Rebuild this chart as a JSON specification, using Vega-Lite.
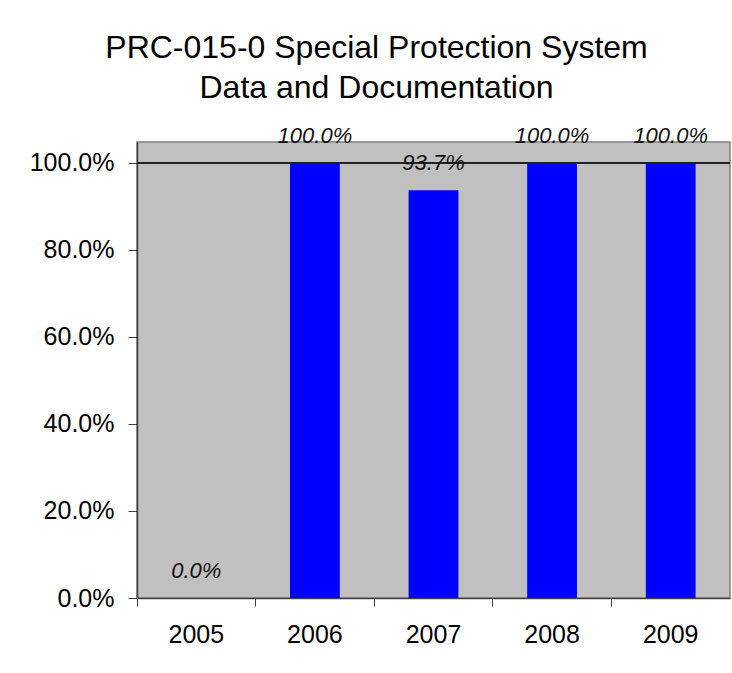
{
  "$schema": "https://vega.github.io/schema/vega-lite/v6.json",
  "width": 593,
  "height": 456,
  "autosize": {"type": "none"},
  "padding": {"left": 137, "top": 142, "right": 2, "bottom": 75},
  "background": "white",
  "config": {
    "font": "Liberation Sans",
    "view": {"fill": "#C0C0C0", "stroke": "#808080", "strokeWidth": 1.5}
  },
  "title": {
    "text": ["PRC-015-0 Special Protection System", "Data and Documentation"],
    "font": "Liberation Sans",
    "fontSize": 32,
    "fontWeight": "normal",
    "color": "black",
    "lineHeight": 40,
    "anchor": "middle",
    "dx": -57,
    "offset": 20
  },
  "data": {
    "values": [
      {"year": "2005", "pct": 0.0},
      {"year": "2006", "pct": 1.0},
      {"year": "2007", "pct": 0.937},
      {"year": "2008", "pct": 1.0},
      {"year": "2009", "pct": 1.0}
    ]
  },
  "encoding": {
    "x": {
      "field": "year",
      "type": "nominal",
      "scale": {"paddingInner": 0, "paddingOuter": 0},
      "axis": {
        "title": null,
        "labelAngle": 0,
        "labelFontSize": 25,
        "labelColor": "black",
        "labelBaseline": "alphabetic",
        "bandPosition": 0,
        "tickSize": 8,
        "labelPadding": 36,
        "domainColor": "#404040",
        "tickColor": "#404040",
        "domainWidth": 1.5
      }
    },
    "y": {
      "field": "pct",
      "type": "quantitative",
      "scale": {"domain": [0, 1.048], "nice": false, "zero": true},
      "axis": {
        "title": null,
        "format": ".1%",
        "values": [0, 0.2, 0.4, 0.6, 0.8, 1.0],
        "grid": false,
        "labelFontSize": 25,
        "labelColor": "black",
        "tickSize": 9,
        "labelPadding": 14,
        "domainColor": "#404040",
        "tickColor": "#404040",
        "domainWidth": 1.5
      }
    }
  },
  "layer": [
    {
      "mark": {"type": "rule", "color": "#202020", "strokeWidth": 1.2},
      "encoding": {"y": {"datum": 1}, "x": null}
    },
    {
      "mark": {"type": "bar", "color": "#0000FF", "width": {"band": 0.42}}
    },
    {
      "mark": {
        "type": "text",
        "font": "Liberation Sans",
        "fontSize": 22,
        "fontStyle": "italic",
        "color": "#111111",
        "baseline": "alphabetic",
        "dy": -20
      },
      "encoding": {"text": {"field": "pct", "type": "quantitative", "format": ".1%"}}
    }
  ]
}
